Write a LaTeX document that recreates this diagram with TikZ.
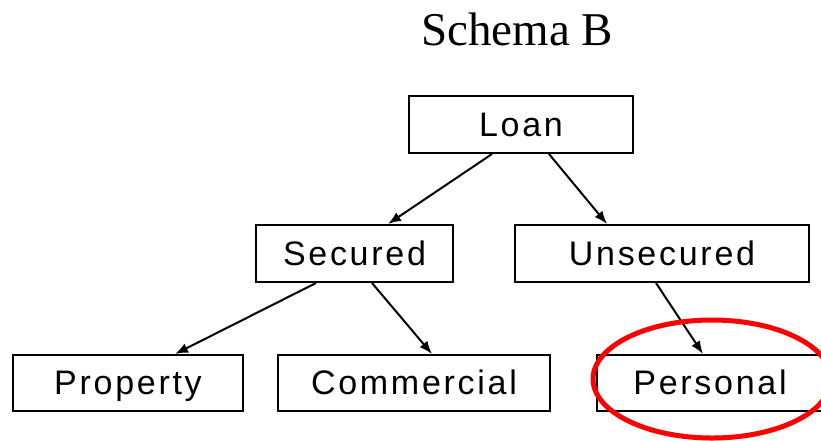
\documentclass[tikz,border=0pt]{standalone}
\usepackage{fontspec}
\setmainfont{Liberation Serif}
\newfontfamily\boxfont[LetterSpace=8]{Liberation Sans}
\usetikzlibrary{arrows.meta}

\begin{document}
\begin{tikzpicture}[x=1pt, y=-1pt,
        box/.style={draw, line width=2pt, inner sep=0pt, text height=23pt, text depth=0pt,
                font=\boxfont\fontsize{34}{40}\selectfont},
        link/.style={line width=2pt, -{Latex[length=13pt, width=10pt]}}]
        \useasboundingbox (0,0) rectangle (821,440);
        \node[font=\fontsize{47}{56}\selectfont, anchor=base] (title) at (517,45) {Schema B};
        \node[box, minimum width=224pt, minimum height=57pt] (loan) at (521,124.5) {Loan};
        \node[box, minimum width=197pt, minimum height=57pt] (sec) at (354.5,253.5) {Secured};
        \node[box, minimum width=294pt, minimum height=57pt] (unsec) at (662,253.5) {Unsecured};
        \node[box, minimum width=230pt, minimum height=56pt] (prop) at (128,383) {Property};
        \node[box, minimum width=272pt, minimum height=56pt] (comm) at (414,383) {Commercial};
        \node[box, minimum width=226pt, minimum height=56pt] (pers) at (710,383) {Personal};
        \draw[link] ([xshift=-29pt]loan.south) -- ([xshift=33.5pt]sec.north);
        \draw[link] ([xshift=28pt]loan.south) -- ([xshift=-55pt]unsec.north);
        \draw[link] ([xshift=-38.5pt]sec.south) -- ([xshift=47pt]prop.north);
        \draw[link] ([xshift=17.5pt]sec.south) -- ([xshift=18pt]comm.north);
        \draw[link] ([xshift=-6pt]unsec.south) -- ([xshift=-7pt]pers.north);
        % the circled leaf
        \draw[red, line width=5pt] (pers.center) ++(2,-4) ellipse [x radius=119, y radius=59];
\end{tikzpicture}
\end{document}
